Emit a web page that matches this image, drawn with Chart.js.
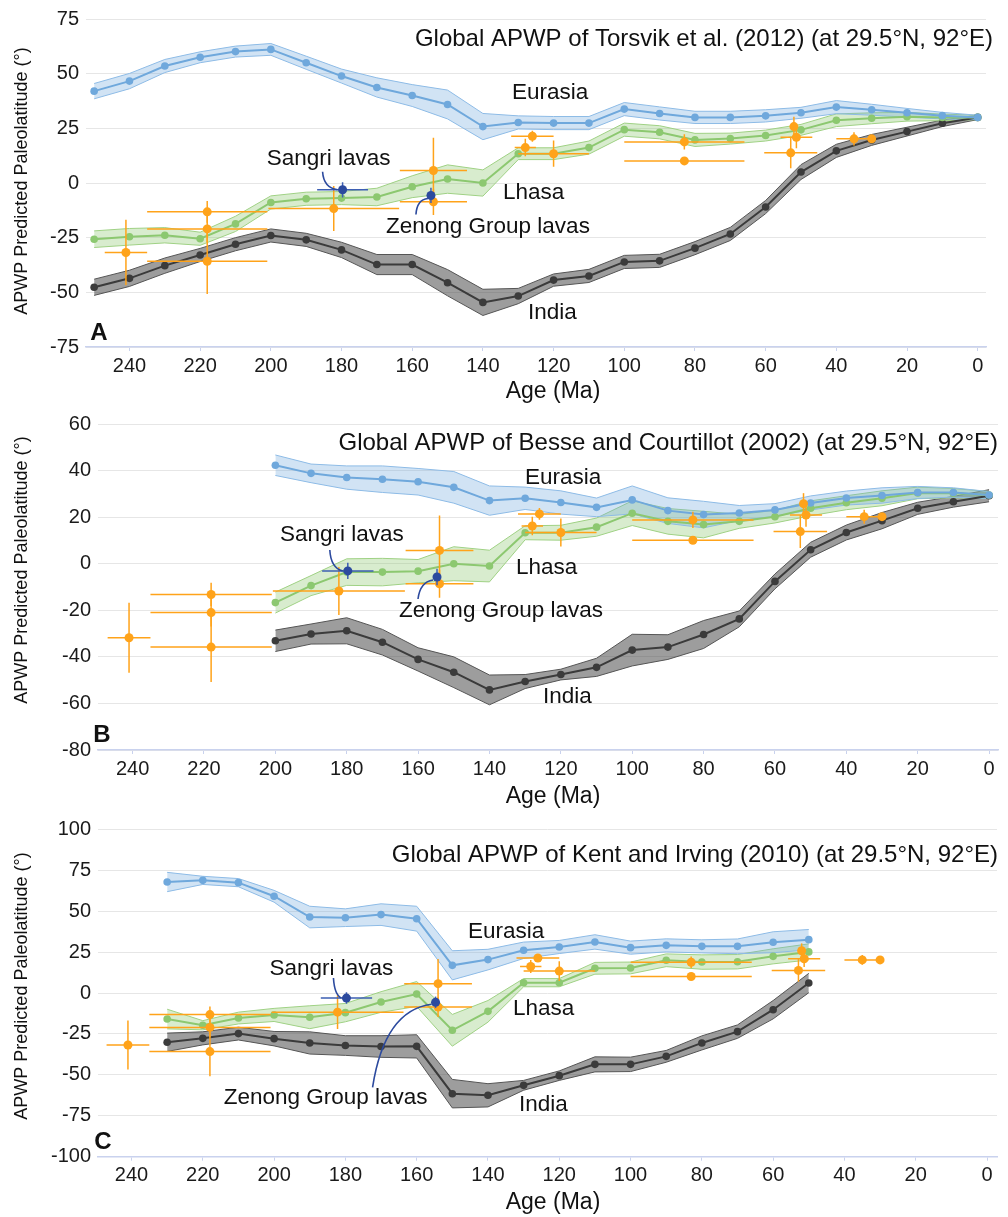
<!DOCTYPE html>
<html>
<head>
<meta charset="utf-8">
<title>APWP predicted paleolatitude</title>
<script src="https://cdn.jsdelivr.net/npm/chart.js@4/dist/chart.umd.min.js"></script>
<style>
  body { margin: 0; background: #fff; }
  #wrap { position: relative; width: 1008px; height: 1217px; }
  #wrap canvas { position: absolute; left: 0; }
</style>
</head>
<body>
<div id="wrap">
  <canvas id="panelA" width="1008" height="405" style="top:0"></canvas>
  <canvas id="panelB" width="1008" height="405" style="top:405px"></canvas>
  <canvas id="panelC" width="1008" height="407" style="top:810px"></canvas>
</div>
<script>
// ---- data ----
const ageTicks = [0, 20, 40, 60, 80, 100, 120, 140, 160, 180, 200, 220, 240];
const latTicksA = [-75, -50, -25, 0, 25, 50, 75];
const latTicksB = [-80, -60, -40, -20, 0, 20, 40, 60];
const latTicksC = [-100, -75, -50, -25, 0, 25, 50, 75, 100];
const plateNames = ['Eurasia', 'Lhasa', 'India'];

// A: Torsvik et al. (2012)
const agesA = [250, 240, 230, 220, 210, 200, 190, 180, 170, 160, 150, 140, 130, 120, 110, 100, 90, 80, 70, 60, 50, 40, 30, 20, 10, 0];
const eurasiaA = [42, 46.6, 53.5, 57.5, 60.1, 61.1, 55, 48.9, 43.7, 40, 35.9, 25.8, 27.7, 27.4, 27.4, 33.8, 31.8, 30, 30, 30.7, 32.1, 34.7, 33.5, 32.1, 30.8, 30];
const eurasiaErrA = [3.5, 3.5, 3, 2.5, 2.5, 2.7, 3, 3.2, 4.4, 5, 6.6, 6, 3, 3, 3, 3, 3, 2.8, 2.8, 2.8, 2.5, 3, 2.5, 2, 1.5, 1];
const lhasaA = [-25.7, -24.6, -23.9, -25.5, -18.7, -8.9, -7.2, -6.9, -6.4, -1.7, 1.8, 0, 13.4, 13.4, 16.2, 24.4, 23.2, 19.7, 20.3, 21.7, 24.3, 28.7, 29.6, 30.3, 30, 30];
const lhasaErrA = [3.8, 3.8, 3.5, 3, 3.5, 3, 3, 3, 4, 5, 6.5, 6, 2.7, 2.7, 3, 3, 3, 3, 2.5, 2.5, 2.5, 2.9, 2.5, 2, 1.5, 1];
const indiaA = [-47.7, -43.6, -37.8, -32.9, -28, -24, -26, -30.6, -37.3, -37.3, -45.6, -54.6, -51.7, -44.4, -42.5, -36.1, -35.6, -29.8, -23.3, -11, 5, 14.7, 19.7, 23.5, 27.3, 30];
const indiaErrA = [3.7, 3.7, 3.5, 3, 3, 3, 3, 3.5, 4.6, 4.6, 6, 6, 3.5, 2.8, 3, 3, 3, 3, 3, 3, 3.4, 3, 2.5, 2, 1.5, 1];

// B: Besse and Courtillot (2002)
const agesB = [200, 190, 180, 170, 160, 150, 140, 130, 120, 110, 100, 90, 80, 70, 60, 50, 40, 30, 20, 10, 0];
const eurasiaB = [42.3, 38.8, 37, 36.3, 35.2, 32.8, 27.1, 28.1, 26.3, 24.2, 27.4, 22.8, 21.1, 21.8, 23.1, 26.1, 28.2, 29.3, 30.6, 30.6, 29.5];
const eurasiaErrB = [4.4, 4, 5, 5.7, 5.7, 6.8, 6.3, 4.8, 5, 4, 6, 5.5, 5.7, 3.2, 2.7, 3, 3, 3.3, 2.6, 2, 1.5];
const lhasaB = [-16.7, -9.4, -3.6, -3.6, -3.2, 0, -1, 13.3, 13.3, 15.7, 21.7, 18.2, 16.8, 18.2, 20.2, 23.8, 26.2, 28.1, 30.4, 30.3, 29.5];
const lhasaErrB = [4.5, 4.3, 5.7, 5.9, 5, 7.3, 6.8, 3, 3.2, 3.9, 5.3, 5.5, 5.7, 3, 2.7, 3.2, 3, 3.2, 2.5, 2, 1.5];
const indiaB = [-33.1, -30.2, -28.8, -33.7, -41.1, -46.6, -54.2, -50.6, -47.6, -44.5, -37.1, -35.8, -30.4, -23.7, -7.6, 6, 13.4, 18.5, 23.8, 26.6, 29.2];
const indiaErrB = [4.6, 4.3, 5.6, 5.5, 5, 6.6, 6.4, 3, 2.3, 3.9, 6.8, 5.3, 6, 3.4, 3.2, 3.2, 3.2, 3.5, 2.6, 2.3, 2.6];

// C: Kent and Irving (2010)
const agesC = [230, 220, 210, 200, 190, 180, 170, 160, 150, 140, 130, 120, 110, 100, 90, 80, 70, 60, 50];
const eurasiaC = [67.8, 68.8, 67.4, 59.1, 46.4, 46, 47.9, 45.4, 16.9, 20.4, 26.1, 28.1, 31.2, 27.7, 29.1, 28.5, 28.5, 31, 32.6];
const eurasiaErrC = [5.9, 2.5, 2.5, 3.6, 6.6, 5.4, 6.6, 7.6, 8.9, 6.3, 5, 4, 4.4, 4, 4, 4, 4.5, 6.4, 6.2];
const lhasaC = [-15.9, -19.7, -15.3, -13.4, -14.8, -12, -5.5, -0.6, -22.8, -11.2, 6.3, 6.3, 15.1, 15.3, 20, 18.9, 19.1, 22.4, 25.1];
const lhasaErrC = [6, 2.8, 3.6, 4, 7, 5.6, 6.3, 7.6, 9.7, 6.6, 2.5, 2.5, 3.6, 3.6, 3.9, 4.4, 4.4, 4.6, 4.9];
const indiaC = [-30.1, -27.7, -24.8, -27.9, -30.5, -32.1, -32.7, -32.6, -61.5, -62.5, -56.4, -50.5, -43.6, -43.6, -38.7, -30.5, -23.6, -10.2, 6.1];
const indiaErrC = [5.6, 4, 3.9, 4.4, 6.8, 6, 6.6, 7.1, 8.7, 7.1, 3, 2.9, 4.6, 4.4, 3.6, 4.3, 4.1, 5.6, 5.9];

// paleomagnetic observations (same in every panel)
const obsAge = [241, 218, 218, 218, 182.2, 154, 154, 126, 128, 120, 83, 83, 52, 51.3, 52.9, 35, 30];
const obsLat = [-31.8, -13.2, -21, -35.8, -11.7, 5.7, -8.6, 21.4, 16.2, 13.4, 18.8, 10.1, 25.8, 20.9, 13.8, 20.2, 20.2];
const obsAgeErr = [6, 17, 17, 17, 18.5, 9.5, 9.5, 6, 3, 10, 17, 17, 0, 4.5, 7.5, 5, 0];
const obsLatErr = [15, 5, 6, 15, 10.3, 15, 6, 2.5, 4, 6, 3.5, 0, 4.5, 5, 7, 3, 0];

// Sangri / Zenong lavas
const lavaNames = ['Sangri lavas', 'Zenong Group lavas'];
const lavaAge = [179.7, 154.7];
const lavaLat = [-3.1, -5.7];
const lavaAgeErr = [7.2, 0];
const lavaLatErr = [3.5, 3.5];

// ---- styling ----
const FONT = '"Liberation Sans", Arial, Helvetica, sans-serif';
Chart.defaults.font.family = FONT;
const plateStyle = [
  { line: '#6fa8dc', edge: '#8dbbe6', fill: 'rgba(111,168,220,0.32)' },
  { line: '#8cc870', edge: '#9fd184', fill: 'rgba(140,200,112,0.34)' },
  { line: '#3b3b3b', edge: '#555555', fill: 'rgba(60,60,60,0.5)' }
];
const obsColor = '#ffa31a';
const lavaColor = '#2c4a9e';

const panels = [
  {
    id: 'panelA', h: 405, area: { left: 86, right: 986, top: 19, bottom: 347 },
    xRange: [-2.35, 252.3], yRange: [-75, 75], yTicks: latTicksA,
    ages: agesA, plates: [[eurasiaA, eurasiaErrA], [lhasaA, lhasaErrA], [indiaA, indiaErrA]],
    text: {
      title: 'Global APWP of Torsvik et al. (2012) (at 29.5°N, 92°E)', titlePos: [993, 39],
      letter: 'A', letterPos: [99, 333], yTitle: [22, 181], xTitle: [553, 392],
      labels: [[512, 93], [503, 193], [528, 313]],
      lava: [{ text: [-14, -31], curve: [-20, -18, -19, -2, -5, 0] },
             { text: [57, 31], curve: [-15, 19, -14, 4, -3, 3] }]
    }
  },
  {
    id: 'panelB', h: 405, area: { left: 98, right: 998, top: 17.7, bottom: 345 },
    xRange: [-2.5, 249.7], yRange: [-80, 60], yTicks: latTicksB,
    ages: agesB, plates: [[eurasiaB, eurasiaErrB], [lhasaB, lhasaErrB], [indiaB, indiaErrB]],
    text: {
      title: 'Global APWP of Besse and Courtillot (2002) (at 29.5°N, 92°E)', titlePos: [998, 38],
      letter: 'B', letterPos: [102, 330], yTitle: [22, 165], xTitle: [553, 392],
      labels: [[525, 73], [516, 163], [543, 292]],
      lava: [{ text: [-6, -36], curve: [-18, -21, -17, -3, -5, 0] },
             { text: [64, 34], curve: [-19, 22, -17, 5, -4, 3] }]
    }
  },
  {
    id: 'panelC', h: 407, area: { left: 98, right: 997, top: 19.3, bottom: 346.7 },
    xRange: [-2.8, 249.4], yRange: [-100, 100], yTicks: latTicksC,
    ages: agesC, plates: [[eurasiaC, eurasiaErrC], [lhasaC, lhasaErrC], [indiaC, indiaErrC]],
    text: {
      title: 'Global APWP of Kent and Irving (2010) (at 29.5°N, 92°E)', titlePos: [998, 45],
      letter: 'C', letterPos: [103, 332], yTitle: [22, 176], xTitle: [553, 393],
      labels: [[468, 122], [513, 199], [519, 295]],
      lava: [{ text: [-15, -29], curve: [-13, -20, -12, -3, -5, 0] },
             { text: [-110, 95], curve: [-63, 85, -51, 8, -4, 2] }]
    }
  }
];

// draws x/y error bars of a dataset just before its points
const errorBars = {
  id: 'errorBars',
  beforeDatasetDraw(chart, args) {
    const ds = chart.data.datasets[args.index];
    if (!ds.xErr) return;
    const { ctx, scales: { x, y } } = chart;
    ctx.save();
    ctx.strokeStyle = ds.errColor;
    ctx.lineWidth = 1.5;
    ds.data.forEach((p, i) => {
      const px = x.getPixelForValue(p.x), py = y.getPixelForValue(p.y);
      ctx.beginPath();
      if (ds.xErr[i]) {
        ctx.moveTo(x.getPixelForValue(p.x - ds.xErr[i]), py);
        ctx.lineTo(x.getPixelForValue(p.x + ds.xErr[i]), py);
      }
      if (ds.yErr[i]) {
        ctx.moveTo(px, y.getPixelForValue(p.y - ds.yErr[i]));
        ctx.lineTo(px, y.getPixelForValue(p.y + ds.yErr[i]));
      }
      ctx.stroke();
    });
    ctx.restore();
  }
};

// titles, labels, panel letter and the lava call-outs
function textPlugin(t) {
  return {
    id: 'panelText',
    afterDraw(chart) {
      const { ctx, scales: { x, y } } = chart;
      ctx.save();
      ctx.fillStyle = '#111';
      ctx.textBaseline = 'middle';

      ctx.font = '24px ' + FONT;
      ctx.textAlign = 'right';
      ctx.fillText(t.title, t.titlePos[0], t.titlePos[1]);

      ctx.font = '22.5px ' + FONT;
      ctx.textAlign = 'left';
      plateNames.forEach((n, i) => ctx.fillText(n, t.labels[i][0], t.labels[i][1]));

      lavaNames.forEach((n, i) => {
        const px = x.getPixelForValue(lavaAge[i]);
        const py = y.getPixelForValue(lavaLat[i]);
        const a = t.lava[i];
        ctx.textAlign = 'center';
        ctx.fillText(n, px + a.text[0], py + a.text[1]);
        ctx.strokeStyle = lavaColor;
        ctx.lineWidth = 1.6;
        ctx.beginPath();
        ctx.moveTo(px + a.curve[0], py + a.curve[1]);
        ctx.quadraticCurveTo(px + a.curve[2], py + a.curve[3], px + a.curve[4], py + a.curve[5]);
        ctx.stroke();
      });

      ctx.font = 'bold 24px ' + FONT;
      ctx.textAlign = 'center';
      ctx.fillText(t.letter, t.letterPos[0], t.letterPos[1]);

      ctx.font = '23px ' + FONT;
      ctx.fillText('Age (Ma)', t.xTitle[0], t.xTitle[1]);

      ctx.translate(t.yTitle[0], t.yTitle[1]);
      ctx.rotate(-Math.PI / 2);
      ctx.font = '18px ' + FONT;
      ctx.fillText('APWP Predicted Paleolatitude (°)', 0, 0);
      ctx.restore();
    }
  };
}

function buildDatasets(p) {
  const sets = [];
  p.plates.forEach(([vals, errs], k) => {
    const st = plateStyle[k];
    const lineOpts = { pointRadius: 0, borderWidth: 1, borderColor: st.edge, tension: 0 };
    sets.push(Object.assign({ data: p.ages.map((a, i) => ({ x: a, y: vals[i] + errs[i] })), fill: false, order: 10 }, lineOpts));
    sets.push(Object.assign({ data: p.ages.map((a, i) => ({ x: a, y: vals[i] - errs[i] })), fill: '-1', backgroundColor: st.fill, order: 10 }, lineOpts));
    sets.push({
      data: p.ages.map((a, i) => ({ x: a, y: vals[i] })),
      borderColor: st.line, borderWidth: 2, tension: 0, fill: false,
      pointRadius: 3.8, pointBackgroundColor: st.line, pointBorderWidth: 0, order: 5
    });
  });
  sets.push({
    data: obsAge.map((a, i) => ({ x: a, y: obsLat[i] })),
    xErr: obsAgeErr, yErr: obsLatErr, errColor: obsColor,
    showLine: false, pointRadius: 4.5, pointBackgroundColor: obsColor, pointBorderWidth: 0, order: 2
  });
  sets.push({
    data: lavaAge.map((a, i) => ({ x: a, y: lavaLat[i] })),
    xErr: lavaAgeErr, yErr: lavaLatErr, errColor: '#3d5fb3',
    showLine: false, pointRadius: 4.5, pointBackgroundColor: lavaColor, pointBorderWidth: 0, order: 1
  });
  return sets;
}

panels.forEach(p => {
  new Chart(document.getElementById(p.id), {
    type: 'line',
    data: { datasets: buildDatasets(p) },
    options: {
      responsive: false,
      animation: false,
      devicePixelRatio: 1,
      layout: { padding: { top: p.area.top, right: 1008 - p.area.right, left: 0, bottom: 0 } },
      plugins: { legend: { display: false }, tooltip: { enabled: false } },
      scales: {
        x: {
          type: 'linear', reverse: true, min: p.xRange[0], max: p.xRange[1],
          afterBuildTicks: s => { s.ticks = ageTicks.map(v => ({ value: v })); },
          afterFit: s => { s.height = p.h - p.area.bottom; },
          grid: { display: true, drawOnChartArea: false, drawTicks: true, tickLength: 4, color: '#c9d2ee' },
          border: { display: true, color: '#c9d2ee', width: 1.5 },
          ticks: { padding: 3, font: { size: 20 }, color: '#1a1a1a', maxRotation: 0, autoSkip: false }
        },
        y: {
          type: 'linear', min: p.yRange[0], max: p.yRange[1],
          afterBuildTicks: s => { s.ticks = p.yTicks.map(v => ({ value: v })); },
          afterFit: s => { s.width = p.area.left; },
          grid: { color: '#e6e6e6', drawTicks: false },
          border: { display: false },
          ticks: { padding: 7, font: { size: 20 }, color: '#1a1a1a' }
        }
      }
    },
    plugins: [errorBars, textPlugin(p.text)]
  });
});
</script>
</body>
</html>
